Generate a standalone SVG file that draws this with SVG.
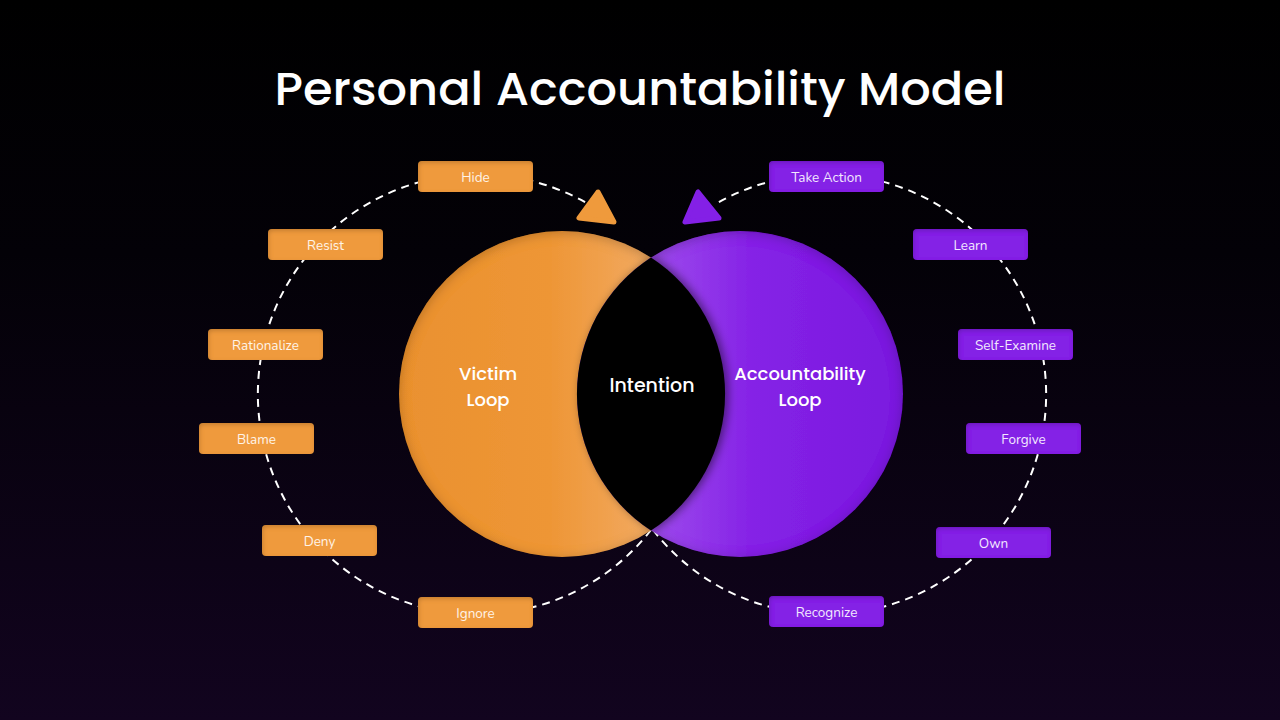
<svg xmlns="http://www.w3.org/2000/svg" width="1280" height="720" viewBox="0 0 1280 720">
<defs>
  <linearGradient id="bg" x1="0" y1="0" x2="0" y2="1">
    <stop offset="0" stop-color="#000000"/>
    <stop offset="0.35" stop-color="#030107"/>
    <stop offset="1" stop-color="#12041f"/>
  </linearGradient>
  <linearGradient id="og" x1="399" y1="0" x2="652" y2="0" gradientUnits="userSpaceOnUse">
    <stop offset="0" stop-color="#ea912f"/>
    <stop offset="0.6" stop-color="#ee9636"/>
    <stop offset="1" stop-color="#f2aa62"/>
  </linearGradient>
  <linearGradient id="pg" x1="652" y1="0" x2="903" y2="0" gradientUnits="userSpaceOnUse">
    <stop offset="0" stop-color="#9d4bec"/>
    <stop offset="0.4" stop-color="#8522e6"/>
    <stop offset="1" stop-color="#7a1adf"/>
  </linearGradient>
  <filter id="inner" x="-20%" y="-20%" width="140%" height="140%">
    <feFlood flood-color="#000" flood-opacity="0.45"/>
    <feComposite in2="SourceAlpha" operator="out"/>
    <feGaussianBlur stdDeviation="6"/>
    <feOffset dx="0" dy="2"/>
    <feComposite in2="SourceAlpha" operator="in" result="sh"/>
    <feMerge><feMergeNode in="SourceGraphic"/><feMergeNode in="sh"/></feMerge>
  </filter>
  <filter id="lensShadow" x="-30%" y="-30%" width="160%" height="160%">
    <feGaussianBlur in="SourceAlpha" stdDeviation="5"/>
    <feOffset dx="3" dy="0"/>
    <feComponentTransfer><feFuncA type="linear" slope="0.5"/></feComponentTransfer>
    <feMerge><feMergeNode/><feMergeNode in="SourceGraphic"/></feMerge>
  </filter>
  <filter id="boxin" x="-10%" y="-30%" width="120%" height="160%">
    <feFlood flood-color="#000" flood-opacity="0.35"/>
    <feComposite in2="SourceAlpha" operator="out"/>
    <feGaussianBlur stdDeviation="2"/>
    <feOffset dx="1" dy="2"/>
    <feComposite in2="SourceAlpha" operator="in" result="sh"/>
    <feMerge><feMergeNode in="SourceGraphic"/><feMergeNode in="sh"/></feMerge>
  </filter>
</defs>
<style>
  .title { font-family: Poppins, "Inter", "Noto Sans", sans-serif; font-size: 47px; font-weight: 500; fill: #ffffff; }
  .big { font-family: Poppins, "Inter", "Noto Sans", sans-serif; font-size: 19px; font-weight: 500; fill: #ffffff; text-anchor: middle; }
  .two { font-size: 18px; }
  .lbl { font-family: "Nunito", "Lato", "Open Sans", sans-serif; font-size: 13.5px; text-anchor: middle; }
  .ob rect { fill: #ef9a3c; filter: url(#boxin); }
  .ob text { fill: #fff4e8; }
  .pb rect { fill: #8420e6; filter: url(#boxin); }
  .pb text { fill: #f3e8ff; }
  .dash { fill: none; stroke: #ffffff; stroke-width: 2; stroke-dasharray: 8 6; }
</style>
<rect width="1280" height="720" fill="url(#bg)"/>
<text class="title" x="640" y="105" text-anchor="middle" textLength="731" lengthAdjust="spacingAndGlyphs">Personal Accountability Model</text>

<g id="connectors">
  <path class="dash" d="M 651 530 A 220 220 0 1 1 590 205"/>
  <path class="dash" d="M 653 530 A 220 220 0 1 0 714 205"/>
  <polygon id="arrow-victim" points="598,192 579,218 614,222" fill="#ef9a3c" stroke="#ef9a3c" stroke-width="5" stroke-linejoin="round"/>
  <polygon id="arrow-accountability" points="698,192 685,222 719,218" fill="#8420e6" stroke="#8420e6" stroke-width="5" stroke-linejoin="round"/>
</g>

<g id="victim-loop">
  <circle cx="562" cy="394" r="163" fill="url(#og)" filter="url(#inner)"/>
</g>
<g id="accountability-loop">
  <circle cx="740" cy="394" r="163" fill="url(#pg)" filter="url(#inner)"/>
</g>
<g id="intention">
  <path d="M 651 257.4 A 163 163 0 0 0 651 530.6 A 163 163 0 0 0 651 257.4 Z" fill="#000000" filter="url(#lensShadow)"/>
  <text class="big" x="652" y="392">Intention</text>
</g>
<g id="victim-text">
  <text class="big two" x="488" y="380">Victim</text>
  <text class="big two" x="488" y="405.5">Loop</text>
</g>
<g id="accountability-text">
  <text class="big two" x="800" y="380">Accountability</text>
  <text class="big two" x="800" y="405.5">Loop</text>
</g>

<g id="hide" class="ob"><rect x="418" y="161" width="115" height="31" rx="4"/><text class="lbl" x="475.5" y="182">Hide</text></g>
<g id="resist" class="ob"><rect x="268" y="229" width="115" height="31" rx="4"/><text class="lbl" x="325.5" y="249.5">Resist</text></g>
<g id="rationalize" class="ob"><rect x="208" y="329" width="115" height="31" rx="4"/><text class="lbl" x="265.5" y="349.5">Rationalize</text></g>
<g id="blame" class="ob"><rect x="199" y="423" width="115" height="31" rx="4"/><text class="lbl" x="256.5" y="443.5">Blame</text></g>
<g id="deny" class="ob"><rect x="262" y="525" width="115" height="31" rx="4"/><text class="lbl" x="319.5" y="545.5">Deny</text></g>
<g id="ignore" class="ob"><rect x="418" y="597" width="115" height="31" rx="4"/><text class="lbl" x="475.5" y="617.5">Ignore</text></g>

<g id="take-action" class="pb"><rect x="769" y="161" width="115" height="31" rx="4"/><text class="lbl" x="826.5" y="182">Take Action</text></g>
<g id="learn" class="pb"><rect x="913" y="229" width="115" height="31" rx="4"/><text class="lbl" x="970.5" y="249.5">Learn</text></g>
<g id="self-examine" class="pb"><rect x="958" y="329" width="115" height="31" rx="4"/><text class="lbl" x="1015.5" y="349.5">Self-Examine</text></g>
<g id="forgive" class="pb"><rect x="966" y="423" width="115" height="31" rx="4"/><text class="lbl" x="1023.5" y="443.5">Forgive</text></g>
<g id="own" class="pb"><rect x="936" y="527" width="115" height="31" rx="4"/><text class="lbl" x="993.5" y="547.5">Own</text></g>
<g id="recognize" class="pb"><rect x="769" y="596" width="115" height="31" rx="4"/><text class="lbl" x="826.5" y="616.5">Recognize</text></g>
</svg>
